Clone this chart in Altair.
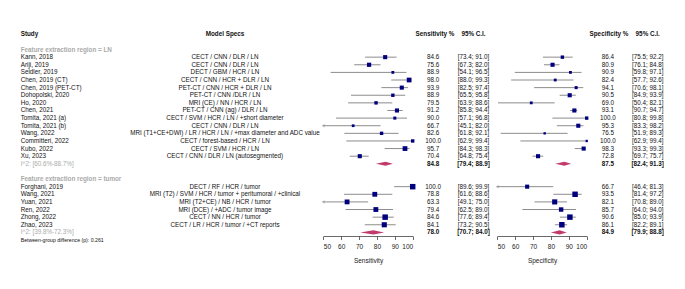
import altair as alt
import pandas as pd

# ---------------- data ----------------
studies_ln = ["Kann, 2018", "Ariji, 2019", "Seidler, 2019", "Chen, 2019 (CT)", "Chen, 2019 (PET-CT)",
              "Dohopolski, 2020", "Ho, 2020", "Chen, 2021", "Tomita, 2021 (a)", "Tomita, 2021 (b)",
              "Wang, 2022", "Committeri, 2022", "Kubo, 2022", "Xu, 2023"]
specs_ln = ["CECT / CNN / DLR / LN", "CECT / CNN / DLR / LN", "DECT / GBM / HCR / LN",
            "CECT / CNN / HCR + DLR / LN", "PET-CT / CNN / HCR + DLR / LN", "PET-CT / CNN /DLR / LN",
            "MRI (CE) / NN / HCR / LN", "PET-CT / CNN (ag) / DLR / LN",
            "CECT / SVM / HCR / LN / +short diameter", "CECT / CNN / DLR / LN",
            "MRI (T1+CE+DWI) / LR / HCR / LN / +max diameter and ADC value",
            "CECT / forest-based / HCR / LN", "CECT / SVM / HCR / LN", "CECT / CNN / DLR / LN (autosegmented)"]
sens_ln = [84.6, 75.6, 88.9, 98.0, 93.9, 88.9, 79.5, 91.2, 90.0, 66.7, 82.6, 100.0, 95.7, 70.4]
sens_lo_ln = [73.4, 67.3, 54.1, 88.0, 82.5, 65.5, 63.9, 85.8, 57.1, 45.1, 61.8, 62.9, 84.3, 64.8]
sens_hi_ln = [91.0, 82.0, 96.5, 99.3, 97.4, 95.8, 88.6, 94.4, 96.8, 82.0, 92.1, 99.4, 98.3, 75.4]
spec_ln = [86.4, 80.9, 90.9, 82.4, 94.1, 90.5, 69.0, 93.1, 100.0, 95.3, 76.5, 100.0, 98.3, 72.8]
spec_lo_ln = [75.5, 76.1, 59.8, 57.7, 70.6, 84.9, 50.4, 90.7, 80.8, 83.3, 51.9, 62.9, 93.3, 69.7]
spec_hi_ln = [92.2, 84.8, 97.1, 92.6, 98.1, 93.9, 82.1, 94.7, 99.8, 98.2, 89.3, 99.4, 99.3, 75.7]
w_sens_ln = [9.0, 9.5, 4.2, 12.0, 9.0, 6.2, 6.2, 9.0, 5.0, 4.0, 6.2, 6.2, 12.0, 9.0]
w_spec_ln = [6.2, 9.0, 4.2, 4.2, 5.0, 9.0, 4.2, 9.0, 6.2, 9.0, 3.0, 3.0, 9.0, 9.0]

studies_tu = ["Forghani, 2019", "Wang, 2021", "Yuan, 2021", "Ren, 2022", "Zhong, 2022", "Zhao, 2023"]
specs_tu = ["DECT / RF / HCR / tumor", "MRI (T2) / SVM / HCR / tumor + peritumoral / +clinical",
            "MRI (T2+CE) / NB / HCR / tumor", "MRI (DCE) / +ADC / tumor image",
            "CECT / NN / HCR / tumor", "CECT / LR / HCR / tumor / +CT reports"]
sens_tu = [100.0, 78.8, 63.3, 79.4, 84.6, 84.1]
sens_lo_tu = [89.6, 61.6, 49.1, 62.5, 77.6, 73.2]
sens_hi_tu = [99.9, 88.6, 75.0, 89.0, 89.4, 90.5]
spec_tu = [66.7, 93.5, 82.1, 85.7, 90.6, 86.1]
spec_lo_tu = [46.4, 81.4, 70.8, 64.0, 85.0, 82.2]
spec_hi_tu = [81.3, 97.2, 89.0, 94.0, 93.9, 89.1]
w_sens_tu = [16.0, 12.5, 12.5, 12.5, 16.0, 14.0]
w_spec_tu = [9.0, 16.0, 14.0, 10.5, 16.0, 16.0]

group_labels = ["Feature extraction region = LN", "Feature extraction region = tumor"]
i2_labels = ["I^2: [60.6%-88.7%]", "I^2: [39.8%-72.3%]"]
sum_sens = [84.8, 78.0]
sum_sens_lo = [79.4, 70.7]
sum_sens_hi = [88.9, 84.0]
sum_spec = [87.5, 84.9]
sum_spec_lo = [82.4, 79.9]
sum_spec_hi = [91.3, 88.8]
between_label = "Between-group difference (p):"
between_p = "0.261"
headers = ["Study", "Model Specs", "Sensitivity %", "95% C.I.", "Specificity %", "95% C.I."]
axis_ticks = [50, 60, 70, 80, 90, 100]

# ---------------- tables ----------------
def ci_txt(lo, hi):
    return f"[{lo:.1f}; {hi:.1f}]"

rows = []
r = 3
for i in range(len(studies_ln)):
    rows.append(dict(row=r, study=studies_ln[i], specs=specs_ln[i], sens=sens_ln[i], sens_lo=sens_lo_ln[i],
                     sens_hi=sens_hi_ln[i], spec=spec_ln[i], spec_lo=spec_lo_ln[i], spec_hi=spec_hi_ln[i],
                     w_sens=w_sens_ln[i], w_spec=w_spec_ln[i]))
    r += 1
group_rows = [2]
sum_rows = [r]
r += 2
group_rows.append(r)
r += 1
for i in range(len(studies_tu)):
    rows.append(dict(row=r, study=studies_tu[i], specs=specs_tu[i], sens=sens_tu[i], sens_lo=sens_lo_tu[i],
                     sens_hi=sens_hi_tu[i], spec=spec_tu[i], spec_lo=spec_lo_tu[i], spec_hi=spec_hi_tu[i],
                     w_sens=w_sens_tu[i], w_spec=w_spec_tu[i]))
    r += 1
sum_rows.append(r)
between_row = r + 1

st = pd.DataFrame(rows)
st["sens_txt"] = st["sens"].map(lambda v: f"{v:.1f}")
st["sens_ci"] = [ci_txt(a, b) for a, b in zip(st.sens_lo, st.sens_hi)]
st["spec_txt"] = st["spec"].map(lambda v: f"{v:.1f}")
st["spec_ci"] = [ci_txt(a, b) for a, b in zip(st.spec_lo, st.spec_hi)]

sm = pd.DataFrame(dict(row=sum_rows, label=i2_labels, sens=sum_sens, sens_lo=sum_sens_lo, sens_hi=sum_sens_hi,
                       spec=sum_spec, spec_lo=sum_spec_lo, spec_hi=sum_spec_hi))
sm["sens_txt"] = sm["sens"].map(lambda v: f"{v:.1f}")
sm["sens_ci"] = [ci_txt(a, b) for a, b in zip(sm.sens_lo, sm.sens_hi)]
sm["spec_txt"] = sm["spec"].map(lambda v: f"{v:.1f}")
sm["spec_ci"] = [ci_txt(a, b) for a, b in zip(sm.spec_lo, sm.spec_hi)]

gr = pd.DataFrame(dict(row=group_rows, label=group_labels))
bt = pd.DataFrame(dict(row=[between_row], label=[f"{between_label}  {between_p}"]))
hd = pd.DataFrame(dict(row=[0] * len(headers), label=headers))

H = 0.27
dia = []
for g in range(len(sm)):
    rr = sm.row[g]
    for kx, (a, b) in enumerate([(0, 0), (-H, H), (0, 0)]):
        dia.append(dict(grp=g, row=rr, yt=rr + a, yb=rr + b,
                        sx=[sm.sens_lo[g], sm.sens[g], sm.sens_hi[g]][kx],
                        px=[sm.spec_lo[g], sm.spec[g], sm.spec_hi[g]][kx]))
dia = pd.DataFrame(dia)

# ---------------- styles ----------------
FONT = "Liberation Sans"
FS = 6.3
BLACK = "#111111"
GRAY = "#aaaaaa"
YS = alt.Scale(domain=[0, 27], range=[34.3, 240.0])
XSENS = alt.Scale(domain=[50, 100], range=[323.3, 412.7], clamp=True, nice=False, zero=False)
XSPEC = alt.Scale(domain=[50, 100], range=[497.3, 586.7], clamp=True, nice=False, zero=False)
SZ = alt.Scale(type="linear", domain=[0, 16], range=[0, 30])
SQCOL = "#00007f"
DCOL = "#c23a6c"
LCOL = "#8c8c8c"


def ypos():
    return alt.Y("row:Q", scale=YS, axis=None)


def txt(data, field, x, align="left", bold=False, color=BLACK, size=FS):
    return alt.Chart(data).mark_text(
        align=align, baseline="middle", font=FONT, fontSize=size,
        fontWeight="bold" if bold else "normal", color=color
    ).encode(x=alt.value(x), y=ypos(), text=f"{field}:N")


def axis(title):
    return alt.Axis(values=axis_ticks, title=title, orient="bottom", grid=False, domainColor="#444",
                    tickColor="#444", tickSize=3.5, labelFont=FONT, labelFontSize=6.5, labelColor="#222",
                    titleFont=FONT, titleFontSize=6.5, titleFontWeight="normal", titleColor="#222",
                    labelPadding=4, titlePadding=7, domainWidth=0.8, tickWidth=0.8)


def panel(lo, hi, est, w, xs, title, dx):
    ci = alt.Chart(st).mark_rule(color=LCOL, strokeWidth=1).encode(
        x=alt.X(f"{lo}:Q", scale=xs, axis=None), x2=f"{hi}:Q", y=ypos())
    arrows = alt.Chart(st).transform_filter(f"datum.{lo} < 50").mark_point(
        shape="M1,-0.7L-0.6,0L1,0.7", filled=False, stroke=LCOL, strokeWidth=0.9, size=10
    ).encode(x=alt.X(f"{lo}:Q", scale=xs, axis=None), y=ypos())
    sq = alt.Chart(st).mark_square(color=SQCOL, opacity=1).encode(
        x=alt.X(f"{est}:Q", scale=xs, axis=axis(title)), y=ypos(),
        size=alt.Size(f"{w}:Q", scale=SZ, legend=None))
    dm = alt.Chart(dia).mark_area(color=DCOL, orient="vertical", opacity=1).encode(
        x=alt.X(f"{dx}:Q", scale=xs, axis=None), y=alt.Y("yt:Q", scale=YS, axis=None), y2="yb:Q",
        detail="grp:N")
    return [ci, arrows, sq, dm]


layers = []
# headers
hx = [(20.7, "left"), (225, "center"), (435, "center"), (473.5, "center"), (609, "center"), (647.7, "center")]
for i, (x, al) in enumerate(hx):
    layers.append(txt(hd.iloc[[i]], "label", x, align=al, bold=True))
# group labels, I^2, between
layers.append(txt(gr, "label", 20.7, bold=True, color=GRAY))
layers.append(txt(sm, "label", 20.7, color=GRAY))
layers.append(txt(bt, "label", 20.7, size=5.2))
# study columns
layers.append(txt(st, "study", 20.7))
layers.append(txt(st, "specs", 225, align="center"))
layers.append(txt(st, "sens_txt", 433, align="center"))
layers.append(txt(st, "sens_ci", 473.5, align="center"))
layers.append(txt(st, "spec_txt", 607.8, align="center"))
layers.append(txt(st, "spec_ci", 647.7, align="center"))
# summary numbers
layers.append(txt(sm, "sens_txt", 433, align="center", bold=True))
layers.append(txt(sm, "sens_ci", 473.5, align="center", bold=True))
layers.append(txt(sm, "spec_txt", 607.8, align="center", bold=True))
layers.append(txt(sm, "spec_ci", 647.7, align="center", bold=True))
# plots
layers += panel("sens_lo", "sens_hi", "sens", "w_sens", XSENS, "Sensitivity", "sx")
layers += panel("spec_lo", "spec_hi", "spec", "w_spec", XSPEC, "Specificity", "px")

chart = alt.layer(*layers).resolve_scale(x="independent").properties(
    width=685, height=236, padding={"left": 0, "top": 0, "right": 0, "bottom": 53},
    autosize="none", background="white"
).configure_view(stroke=None)

chart.save("out.html", embed_options={"renderer": "svg", "actions": False})
